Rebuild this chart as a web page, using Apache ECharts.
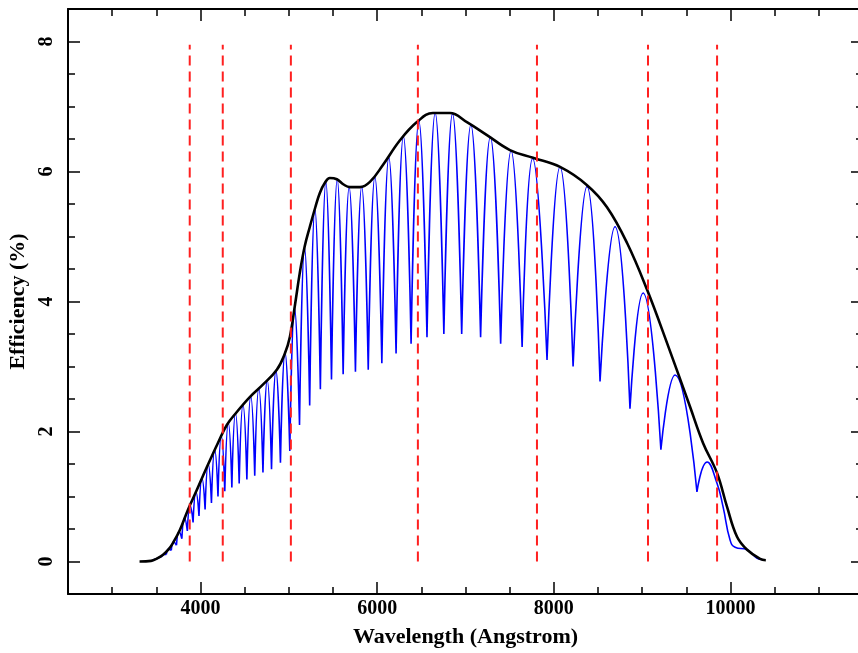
<!DOCTYPE html>
<html><head><meta charset="utf-8">
<script src="https://cdn.jsdelivr.net/npm/echarts@6/dist/echarts.min.js"></script>
<style>html,body{margin:0;padding:0;background:#fff}#c{width:858px;height:653px}</style>
</head><body><div id="c"></div>
<script>
// Black envelope (wavelength in Angstrom, efficiency in %)
const envWave = [3310,3440,3500,3573,3640,3686,3765,3856,3958,4071,4196,4298,4411,4558,4706,4864,4955,5011,5070,5124,5180,5238,5300,5351,5410,5464,5544,5620,5691,5805,5918,6065,6258,6450,6631,6824,7016,7243,7503,7764,8070,8376,8602,8829,9056,9282,9542,9690,9848,9961,10074,10188,10335,10400];
const envEff  = [0.0,0.01,0.04,0.10,0.19,0.28,0.48,0.79,1.10,1.45,1.82,2.10,2.30,2.53,2.72,2.95,3.20,3.45,3.95,4.44,4.85,5.15,5.45,5.67,5.83,5.90,5.88,5.80,5.76,5.76,5.84,6.10,6.48,6.76,6.90,6.90,6.76,6.56,6.33,6.21,6.07,5.79,5.45,4.90,4.18,3.36,2.38,1.82,1.36,0.84,0.38,0.18,0.04,0.02];

// Blue order curves: peak of each order and the dips between orders
const blueStart = [3450, 0.01];
const peakWave = [3478,3530,3585,3641,3698,3758,3820,3883,3949,4017,4088,4161,4236,4315,4396,4481,4569,4660,4755,4854,4957,5065,5178,5295,5419,5548,5683,5825,5974,6132,6297,6472,6657,6853,7061,7281,7516,7760,8070,8376,8693,9010,9373,9735];
const peakEff  = [0.03,0.06,0.11,0.19,0.30,0.46,0.67,0.86,1.07,1.28,1.50,1.72,1.93,2.13,2.28,2.41,2.54,2.66,2.79,2.94,3.22,3.90,4.83,5.43,5.84,5.88,5.76,5.77,5.92,6.22,6.54,6.78,6.90,6.89,6.72,6.53,6.32,6.20,6.07,5.77,5.15,4.13,2.87,1.53];
const dipWave  = [3504,3557,3613,3669,3728,3789,3851,3916,3983,4052,4124,4198,4275,4355,4438,4525,4614,4707,4804,4905,5011,5121,5236,5357,5483,5615,5754,5899,6053,6214,6384,6564,6755,6957,7171,7398,7641,7923,8218,8523,8862,9212,9620];
const dipEff   = [0.04,0.07,0.11,0.17,0.25,0.35,0.47,0.60,0.70,0.80,0.90,1.00,1.08,1.14,1.20,1.26,1.32,1.37,1.42,1.52,1.70,2.10,2.40,2.65,2.80,2.88,2.92,2.95,3.05,3.20,3.35,3.45,3.50,3.50,3.45,3.35,3.30,3.10,3.00,2.77,2.35,1.72,1.07];
const tailWave = [9848,9916,9995,10052,10188,10301,10360];
const tailEff  = [1.20,0.84,0.33,0.22,0.18,0.05,0.03];

// Red dashed markers
const redWave = [3878,4252,5023,6461,7809,9066,9848];
const redRange = [0, 7.95];

const xMajor = [4000,6000,8000,10000];
const yMajor = [0,2,4,6,8];

const FONT = 'Liberation Serif';

const blue = [];
for (let i = 0; i < peakWave.length; i++) {
  blue.push(i === 0 ? blueStart : [dipWave[i-1], dipEff[i-1]]);
  blue.push([peakWave[i], peakEff[i]]);
  if (i < dipWave.length) {
    blue.push([dipWave[i], dipEff[i]]);
    blue.push(['-', '-']);
  } else {
    for (let k = 0; k < tailWave.length; k++) blue.push([tailWave[k], tailEff[k]]);
  }
}
const env = envWave.map((w, i) => [w, envEff[i]]);
const red = [];
redWave.forEach(w => { red.push([w, redRange[0]], [w, redRange[1]], ['-', '-']); });

const tickStyle = {color:'#000', fontFamily:FONT, fontSize:20, fontWeight:'bold'};
const nameStyle = {color:'#000', fontFamily:FONT, fontSize:22, fontWeight:'bold'};
function xAx(pos, major, labels) {
  return {
    type:'value', min:2500, max:11500, position:pos,
    interval: major ? undefined : 500,
    axisLine:{show:!major, onZero:false, lineStyle:{color:'#000', width:2}},
    axisTick:major ? {show:true, inside:true, length:12, customValues:xMajor, lineStyle:{color:'#000', width:1.5}}
                   : {show:true, inside:true, length:7, lineStyle:{color:'#000', width:1.5}},
    axisLabel: labels ? Object.assign({show:true, margin:5, formatter:v => (v % 2000 === 0 && v >= 4000 && v <= 10000) ? String(v) : ''}, tickStyle) : {show:false},
    splitLine:{show:false},
    name: labels ? 'Wavelength (Angstrom)' : '',
    nameLocation:'middle', nameGap:32,
    nameTextStyle: nameStyle
  };
}
function yAx(pos, major, labels) {
  return {
    type:'value', min:-0.5, max:8.5, position:pos,
    interval: major ? undefined : 0.5,
    axisLine:{show:!major && pos === 'left', onZero:false, lineStyle:{color:'#000', width:2}},
    axisTick:major ? {show:true, inside:true, length:12, customValues:yMajor, lineStyle:{color:'#000', width:1.5}}
                   : {show:true, inside:true, length:7, lineStyle:{color:'#000', width:1.5}},
    axisLabel: labels ? Object.assign({show:true, margin:11, rotate:90, formatter:v => (Math.abs(v - Math.round(v)) < 1e-6 && Math.round(v) % 2 === 0) ? String(Math.round(v)) : ''}, tickStyle) : {show:false},
    splitLine:{show:false},
    name: labels ? 'Efficiency (%)' : '',
    nameLocation:'middle', nameGap:38,
    nameTextStyle: nameStyle
  };
}

const chart = echarts.init(document.getElementById('c'), null, {renderer:'canvas'});
chart.setOption({
  animation:false,
  backgroundColor:'#fff',
  grid:{left:68, top:9, width:795, height:585, containLabel:false, outerBoundsMode:'none'},
  xAxis:[xAx('bottom', false, true), xAx('bottom', true, false), xAx('top', false, false), xAx('top', true, false)],
  yAxis:[yAx('left', false, true), yAx('left', true, false), yAx('right', false, false), yAx('right', true, false)],
  series:[
    {type:'line', data:blue, xAxisIndex:0, yAxisIndex:0, smooth:0.5, showSymbol:false, connectNulls:false,
     lineStyle:{color:'#0000ff', width:1.6}, z:2},
    {type:'line', data:env, xAxisIndex:0, yAxisIndex:0, smooth:0.4, showSymbol:false,
     lineStyle:{color:'#000', width:2.6}, z:3},
    {type:'line', data:red, xAxisIndex:0, yAxisIndex:0, showSymbol:false, connectNulls:false,
     lineStyle:{color:'#ff2020', width:2, type:[10,6]}, z:4}
  ]
});
</script></body></html>
